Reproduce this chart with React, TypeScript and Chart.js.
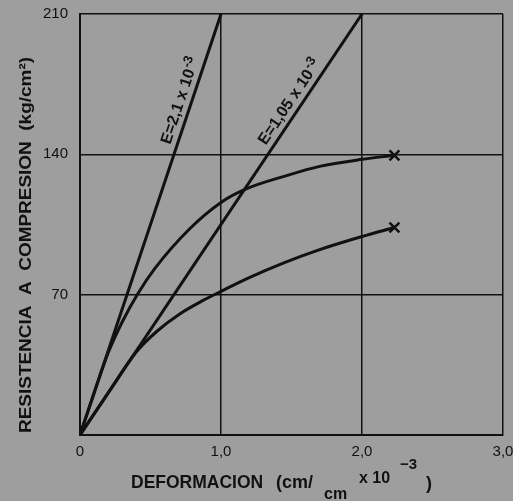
import React, { useEffect, useRef } from "react";
import { Chart, registerables } from "chart.js";

Chart.register(...registerables);

// ---- data (strain x10^-3, stress kg/cm2) ----
const strainUpper = [0, 0.1, 0.2, 0.3, 0.41, 0.53, 0.78, 1.0, 1.17, 1.47, 1.7, 2.0, 2.23];
const stressUpper = [0, 21, 41, 56.5, 70.5, 83, 103, 116, 122.5, 129.5, 134, 137.5, 139.5];

const strainLower = [0, 0.2, 0.4, 0.55, 0.71, 0.87, 1.01, 1.2, 1.45, 1.68, 2.0, 2.23];
const stressLower = [0, 21, 41.5, 52, 60.5, 67, 72, 78.5, 86, 92, 99, 103.5];

const strainE21 = [0, 1.0];
const stressE21 = [0, 210];
const strainE105 = [0, 2.0];
const stressE105 = [0, 210];

const xTickValues = [0, 1, 2, 3];
const xTickLabels = ["0", "1,0", "2,0", "3,0"];
const yTickValues = [0, 70, 140, 210];
const yTickLabels = ["", "70", "140", "210"];

const labelE21 = "E=2,1 x 10";
const labelE105 = "E=1,05 x 10";
const labelExp = "-3";
const yTitle = "RESISTENCIA  A  COMPRESION  (kg/cm\u00B2)";

const INK = "#111111";
const BG = "#9e9e9e";
const FONT = '"Liberation Sans", Arial, sans-serif';

const toPts = (xs: number[], ys: number[]) => xs.map((x, i) => ({ x, y: ys[i] }));

export default function App() {
  const ref = useRef<HTMLCanvasElement | null>(null);

  useEffect(() => {
    document.body.style.margin = "0";
    document.body.style.background = BG;
    const canvas = ref.current!;

    const bgPlugin = {
      id: "bg",
      beforeDraw(chart: any) {
        const { ctx, width, height } = chart;
        ctx.save();
        ctx.fillStyle = BG;
        ctx.fillRect(0, 0, width, height);
        ctx.restore();
      },
    };

    const textPlugin = {
      id: "texts",
      afterDraw(chart: any) {
        const { ctx } = chart;
        const xs = chart.scales.x;
        const ys = chart.scales.y;
        ctx.save();
        ctx.fillStyle = INK;

        // labels along the two modulus lines
        const lineLabel = (txt: string, x1: number, y1: number, stressAt: number, off: number) => {
          const px0 = xs.getPixelForValue(0), py0 = ys.getPixelForValue(0);
          const px1 = xs.getPixelForValue(x1), py1 = ys.getPixelForValue(y1);
          const ang = Math.atan2(py1 - py0, px1 - px0);
          const t = stressAt / y1;
          const cx = px0 + (px1 - px0) * t;
          const cy = py0 + (py1 - py0) * t;
          ctx.save();
          ctx.translate(cx, cy);
          ctx.rotate(ang);
          ctx.textBaseline = "middle";
          ctx.textAlign = "left";
          ctx.font = `bold 16px ${FONT}`;
          const w1 = ctx.measureText(txt).width;
          ctx.font = `bold 13px ${FONT}`;
          const w2 = ctx.measureText(labelExp).width;
          const start = -(w1 + w2 + 1) / 2;
          ctx.font = `bold 16px ${FONT}`;
          ctx.fillText(txt, start, -off);
          ctx.font = `bold 13px ${FONT}`;
          ctx.fillText(labelExp, start + w1 + 1, -off - 5);
          ctx.restore();
        };
        lineLabel(labelE21, strainE21[1], stressE21[1], 165, 11);
        lineLabel(labelE105, strainE105[1], stressE105[1], 163, 11);

        // Y title (condensed to span)
        ctx.save();
        ctx.translate(26, 245);
        ctx.rotate(-Math.PI / 2);
        ctx.font = `bold 17px ${FONT}`;
        const w = ctx.measureText(yTitle).width;
        const target = 376;
        ctx.scale(target / w, 1);
        ctx.textAlign = "center";
        ctx.textBaseline = "middle";
        ctx.fillText(yTitle, 0, 0);
        ctx.restore();

        // X title
        ctx.textAlign = "left";
        ctx.textBaseline = "alphabetic";
        ctx.font = `bold 17.5px ${FONT}`;
        ctx.fillText("DEFORMACION", 131, 488);
        ctx.font = `bold 18px ${FONT}`;
        ctx.fillText("(cm/", 276, 488);
        ctx.font = `bold 16px ${FONT}`;
        ctx.fillText("cm", 324, 499);
        ctx.font = `bold 16px ${FONT}`;
        ctx.fillText("x 10", 359, 483);
        ctx.font = `bold 15px ${FONT}`;
        ctx.fillText("\u22123", 400, 469);
        ctx.font = `bold 18px ${FONT}`;
        ctx.fillText(")", 426, 489);
        ctx.restore();
      },
    };

    const lastRadius = (n: number) => (c: any) => (c.dataIndex === n - 1 ? 7 : 0);

    const chart = new Chart(canvas, {
      type: "line",
      data: {
        datasets: [
          {
            data: toPts(strainE21, stressE21),
            borderColor: INK,
            borderWidth: 3,
            pointRadius: 0,
            tension: 0,
          },
          {
            data: toPts(strainE105, stressE105),
            borderColor: INK,
            borderWidth: 3,
            pointRadius: 0,
            tension: 0,
          },
          {
            data: toPts(strainUpper, stressUpper),
            borderColor: INK,
            borderWidth: 3,
            cubicInterpolationMode: "monotone",
            pointStyle: "crossRot",
            pointRadius: lastRadius(strainUpper.length),
            pointBorderWidth: 2.5,
            pointBorderColor: INK,
          },
          {
            data: toPts(strainLower, stressLower),
            borderColor: INK,
            borderWidth: 3,
            cubicInterpolationMode: "monotone",
            pointStyle: "crossRot",
            pointRadius: lastRadius(strainLower.length),
            pointBorderWidth: 2.5,
            pointBorderColor: INK,
          },
        ] as any,
      },
      options: {
        animation: false,
        responsive: false,
        devicePixelRatio: 1,
        layout: { padding: { top: 14, right: 10, left: 0, bottom: 0 } },
        plugins: { legend: { display: false }, tooltip: { enabled: false } },
        scales: {
          x: {
            type: "linear",
            min: 0,
            max: 3,
            afterFit: (s: any) => {
              s.height = 66;
              s.paddingLeft = 0;
              s.paddingRight = 0;
            },
            afterBuildTicks: (s: any) => {
              s.ticks = xTickValues.map((v) => ({ value: v }));
            },
            ticks: {
              padding: 8,
              color: INK,
              font: { family: FONT, size: 15 },
              maxRotation: 0,
              callback: (v: any) => xTickLabels[xTickValues.indexOf(Number(v))] ?? "",
            },
            grid: { color: INK, lineWidth: 1.5, drawTicks: false },
            border: { display: true, color: INK, width: 2 },
          },
          y: {
            type: "linear",
            min: 0,
            max: 210,
            afterFit: (s: any) => {
              s.width = 80;
              s.paddingTop = 0;
              s.paddingBottom = 0;
            },
            afterBuildTicks: (s: any) => {
              s.ticks = yTickValues.map((v) => ({ value: v }));
            },
            ticks: {
              padding: 12,
              color: INK,
              font: { family: FONT, size: 15 },
              callback: (v: any) => yTickLabels[yTickValues.indexOf(Number(v))] ?? "",
            },
            grid: { color: INK, lineWidth: 1.5, drawTicks: false },
            border: { display: true, color: INK, width: 2 },
          },
        },
      } as any,
      plugins: [bgPlugin, textPlugin],
    });

    return () => chart.destroy();
  }, []);

  return (
    <div style={{ width: 513, height: 501 }}>
      <canvas ref={ref} width={513} height={501} style={{ display: "block", width: 513, height: 501 }} />
    </div>
  );
}
